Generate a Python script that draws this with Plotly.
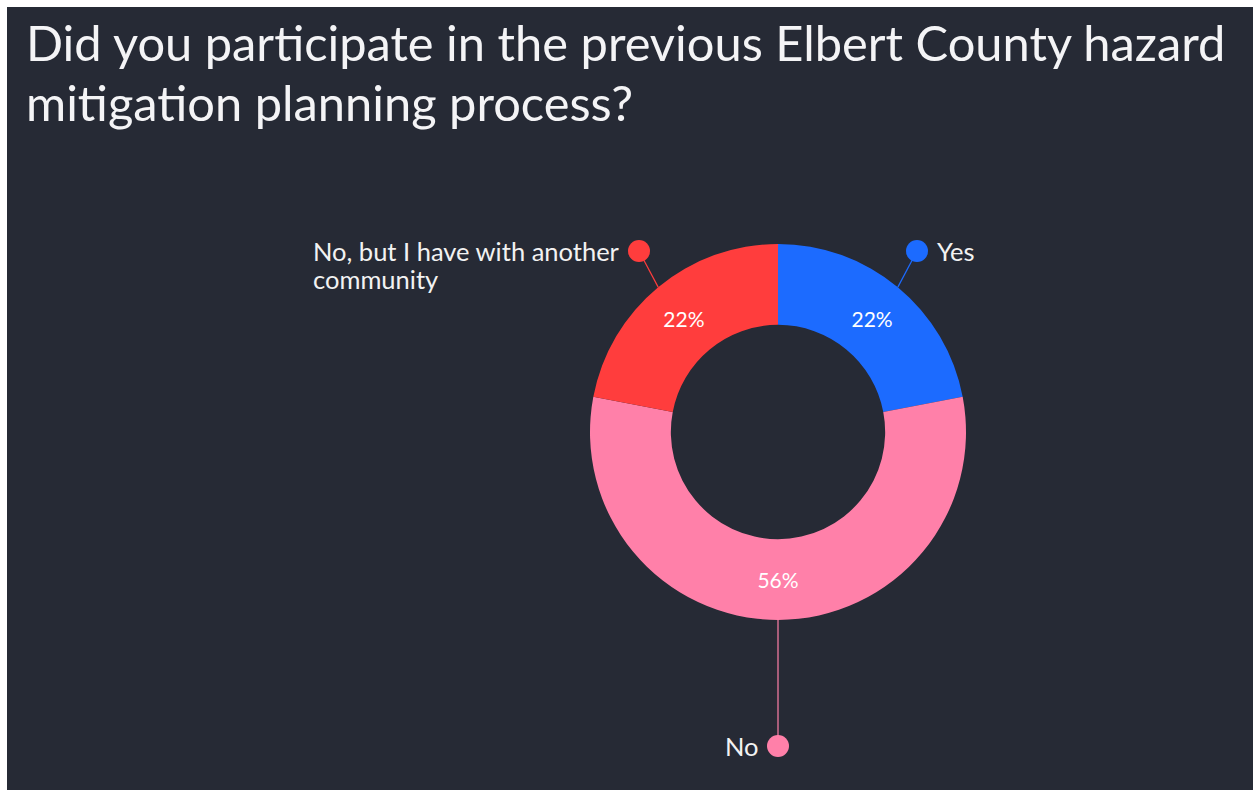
import math
import plotly.graph_objects as go

# Survey responses
labels = ["Yes", "No", "No, but I have with another community"]
label_lines = [["Yes"], ["No"], ["No, but I have with another", "community"]]
values = [22, 56, 22]
colors = ["#1c6bff", "#ff80a9", "#ff3d3d"]

title_lines = [
    "Did you participate in the previous Elbert County hazard",
    "mitigation planning process?",
]

W, H = 1253, 790
BG = "#262a35"
FONT = "Lato"

# donut geometry in pixels
cx, cy, R = 778, 432, 188
hole = 0.57

# callout dot positions (pixels), text side, and left edge of wrapped lines
callouts = {
    "Yes": dict(dot=(917, 251), side="right"),
    "No": dict(dot=(778, 746), side="left"),
    "No, but I have with another community": dict(dot=(639, 251), side="left", wrap_x=311),
}

fig = go.Figure()

fig.add_trace(go.Pie(
    labels=labels,
    values=values,
    marker=dict(colors=colors, line=dict(width=0)),
    hole=hole,
    sort=False,
    direction="clockwise",
    rotation=0,
    textinfo="percent",
    texttemplate="%{percent:.0%}",
    textposition="inside",
    insidetextorientation="horizontal",
    insidetextfont=dict(family=FONT, size=21, color="#ffffff"),
    showlegend=False,
    hoverinfo="label+percent",
    domain=dict(
        x=[(cx - R) / W, (cx + R) / W],
        y=[(H - cy - R) / H, (H - cy + R) / H],
    ),
))

# leader lines from the mid-angle of each slice to its callout dot
total = sum(values)
cum = 0
for lab, lines, val, col in zip(labels, label_lines, values, colors):
    mid = (cum + val / 2) / total * 2 * math.pi
    cum += val
    ex = cx + R * math.sin(mid)
    ey = cy - R * math.cos(mid)
    spec = callouts[lab]
    dx, dy = spec["dot"]
    fig.add_trace(go.Scatter(
        x=[ex, dx], y=[ey, dy], mode="lines",
        line=dict(color=col, width=1.2),
        showlegend=False, hoverinfo="skip",
    ))
    fig.add_trace(go.Scatter(
        x=[dx], y=[dy], mode="markers",
        marker=dict(color=col, size=22, line=dict(width=0)),
        showlegend=False, hoverinfo="skip",
    ))
    if spec["side"] == "right":
        tx, xanchor = dx + 18, "left"
    else:
        tx, xanchor = dx - 17, "right"
    for j, line in enumerate(lines):
        fig.add_annotation(
            x=tx if j == 0 else spec["wrap_x"], y=dy + 28 * j,
            xref="x", yref="y",
            text=line, showarrow=False,
            xanchor=xanchor if j == 0 else "left",
            yanchor="middle",
            font=dict(family=FONT, size=25.5, color="#f2f2f2"),
        )

# title
for i, line in enumerate(title_lines):
    fig.add_annotation(
        x=24, y=42 + 60 * i, xref="x", yref="y",
        text=line, showarrow=False,
        xanchor="left", yanchor="middle",
        font=dict(family=FONT, size=48.8, color="#f4f4f6"),
    )

# white frame strips on the top and left edges
fig.add_shape(type="rect", xref="x", yref="y", x0=0, x1=7, y0=0, y1=H,
              fillcolor="#ffffff", line=dict(width=0), layer="above")
fig.add_shape(type="rect", xref="x", yref="y", x0=0, x1=W, y0=0, y1=7,
              fillcolor="#ffffff", line=dict(width=0), layer="above")

fig.update_layout(
    width=W, height=H,
    margin=dict(l=0, r=0, t=0, b=0),
    paper_bgcolor=BG, plot_bgcolor=BG,
    xaxis=dict(range=[0, W], visible=False, domain=[0, 1], fixedrange=True),
    yaxis=dict(range=[H, 0], visible=False, domain=[0, 1], fixedrange=True),
)

fig.write_html("out.html")
